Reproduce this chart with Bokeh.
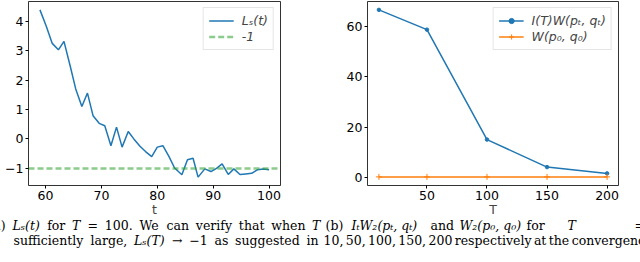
from bokeh.plotting import figure
from bokeh.models import Legend, LegendItem, Label, Range1d
from bokeh.layouts import row, column
from bokeh.embed import file_html
from bokeh.resources import INLINE

# ---------------- data ----------------
t_vals = [59.0, 60.1, 61.2, 62.3, 63.3, 64.4, 65.4, 66.5, 67.5, 68.5,
          69.6, 70.6, 71.7, 72.7, 73.7, 74.8, 75.8, 76.9, 77.9, 79.0,
          80.0, 81.0, 82.1, 83.1, 84.4, 85.4, 86.4, 87.3, 88.5, 89.6,
          90.6, 91.6, 92.7, 93.7, 94.8, 95.8, 96.9, 97.9, 99.0, 100.0]
ls_vals = [4.39, 3.85, 3.25, 3.03, 3.32, 2.49, 1.70, 1.10, 1.56, 0.79,
           0.53, 0.45, -0.23, 0.40, -0.28, 0.25, 0.0, -0.25, -0.43, -0.60,
           -0.28, -0.23, -0.60, -0.99, -1.22, -0.71, -0.66, -1.30, -1.02, -1.11,
           -1.00, -0.85, -1.21, -1.02, -1.21, -1.19, -1.17, -1.05, -1.02, -1.05]
ref_level = [-1]
left_xticks = [60, 70, 80, 90, 100]
left_yticks = [-1, 0, 1, 2, 3, 4]

T_vals = [10, 50, 100, 150, 200]
iw_vals = [66.8, 58.9, 15.0, 4.0, 1.5]
w0_vals = [0.1, 0.1, 0.1, 0.1, 0.1]
right_xticks = [50, 100, 150, 200]
right_yticks = [0, 20, 40, 60]

# caption words: (text, italic)
cap_left_1 = [("(a)", False), ("L\u209b(t)", True), ("for", False), ("T", True),
              ("=", False), ("100.", False), ("We", False), ("can", False),
              ("verify", False), ("that", False), ("when", False), ("T", True)]
cap_left_2 = [("sufficiently", False), ("large,", False), ("L\u209b(T)", True),
              ("\u2192", False), ("\u22121", False), ("as", False),
              ("suggested", False), ("in", False)]
cap_right_1 = [(325, "(b)", False), (351, "I\u209cW\u2082(p\u209c, q\u209c)", True),
               (430, "and", False), (459, "W\u2082(p\u2080, q\u2080)", True),
               (526, "for", False), (567, "T", True), (634, "=", False)]
cap_right_2 = [("10,", False), ("50,", False), ("100,", False), ("150,", False),
               ("200", False), ("respectively", False), ("at", False),
               ("the", False), ("convergence", False)]

BLUE = "#1f77b4"
ORANGE = "#ff7f0e"
GREEN = "#2ca02c"
FONT = "DejaVu Sans"
SERIF = "DejaVu Serif"
CAP_SIZE = 12.5

# approximate DejaVu Serif advance widths (per 1000 em)
WID = {" ": 318, "a": 596, "b": 640, "c": 560, "d": 640, "e": 592, "f": 370,
       "g": 640, "h": 644, "i": 320, "l": 320, "m": 948, "n": 644, "o": 602,
       "p": 640, "q": 640, "r": 478, "s": 513, "t": 402, "u": 644, "v": 566,
       "w": 828, "y": 566, ",": 318, ".": 318, "(": 390, ")": 390, "=": 838,
       "T": 685, "W": 1023, "L": 619, "I": 367, "\u2212": 838, "\u2192": 838}
for d in "0123456789":
    WID[d] = 636


def text_w(s):
    return sum(WID.get(c, 420) for c in s) * CAP_SIZE / 1000.0


def justify(words, x0, x1):
    widths = [text_w(w) for w, _ in words]
    gap = (x1 - x0 - sum(widths)) / (len(words) - 1)
    out, x = [], x0
    for (w, it), wd in zip(words, widths):
        out.append((x, w, it))
        x += wd + gap
    return out


def style(p):
    p.outline_line_color = "black"
    p.outline_line_width = 1
    p.outline_line_alpha = 0.8
    p.xgrid.visible = False
    p.ygrid.visible = False
    for ax in (p.xaxis[0], p.yaxis[0]):
        ax.axis_line_color = None
        ax.major_tick_line_color = "black"
        ax.major_tick_in = 0
        ax.major_tick_out = 3
        ax.minor_tick_line_color = None
        ax.major_label_text_font = FONT
        ax.major_label_text_font_size = "12.5px"
        ax.major_label_text_color = "black"
        ax.major_label_standoff = 2
        ax.axis_label_text_font = FONT
        ax.axis_label_text_font_size = "12.5px"
        ax.axis_label_text_font_style = "normal"
        ax.axis_label_standoff = -1


def legend_style(lg):
    lg.label_text_font = FONT
    lg.label_text_font_size = "12.5px"
    lg.label_text_font_style = "italic"
    lg.glyph_width = 25
    lg.glyph_height = 13
    lg.label_height = 13
    lg.label_standoff = 8
    lg.spacing = 1
    lg.padding = 5
    lg.margin = 6
    lg.border_line_color = "#cccccc"
    lg.border_line_width = 1
    lg.background_fill_alpha = 0.8


# ---------------- left panel ----------------
p1 = figure(width=320, height=219, output_backend="svg", toolbar_location=None,
            x_range=Range1d(56.95, 102.05), y_range=Range1d(-1.585, 4.675),
            min_border_left=28, min_border_right=40, min_border_top=1,
            min_border_bottom=34)
style(p1)
p1.xaxis.ticker = left_xticks
p1.yaxis.ticker = left_yticks
p1.yaxis.major_label_overrides = {-1: "\u22121"}
p1.xaxis.axis_label = "t"

l1 = p1.line(t_vals, ls_vals, line_color=BLUE, line_width=1.5)
hs = p1.hspan(y=ref_level, line_color=GREEN, line_width=2.5, line_alpha=0.55,
              line_dash="6 3")
lg1 = Legend(items=[LegendItem(label="L\u209b(t)", renderers=[l1]),
                    LegendItem(label="-1", renderers=[hs])],
             location="top_right")
legend_style(lg1)
p1.add_layout(lg1)

# ---------------- right panel ----------------
p2 = figure(width=320, height=219, output_backend="svg", toolbar_location=None,
            x_range=Range1d(0.5, 209.5), y_range=Range1d(-3.34, 70.14),
            min_border_left=47, min_border_right=22, min_border_top=1,
            min_border_bottom=34)
style(p2)
p2.xaxis.ticker = right_xticks
p2.yaxis.ticker = right_yticks
p2.xaxis.axis_label = "T"

b_line = p2.line(T_vals, iw_vals, line_color=BLUE, line_width=1.5)
b_pts = p2.scatter(T_vals, iw_vals, marker="circle", size=3.5, fill_color=BLUE,
                   line_color=BLUE)
o_line = p2.line(T_vals, w0_vals, line_color=ORANGE, line_width=1.5)
o_pts = p2.scatter(T_vals, w0_vals, marker="cross", size=6, line_color=ORANGE,
                   line_width=1)
lg2 = Legend(items=[LegendItem(label="I(T)W(p\u209c, q\u209c)", renderers=[b_line, b_pts]),
                    LegendItem(label="W(p\u2080, q\u2080)", renderers=[o_line, o_pts])],
             location="top_right")
legend_style(lg2)
p2.add_layout(lg2)

# ---------------- caption strip ----------------
cap = figure(width=640, height=43, output_backend="svg", toolbar_location=None,
             x_range=Range1d(0, 640), y_range=Range1d(0, 43), min_border=0,
             x_axis_location=None, y_axis_location=None)
cap.outline_line_color = None
cap.grid.visible = False

placed = [(justify(cap_left_1, -12, 320), 37.5), (justify(cap_left_2, 13, 318), 22.5),
          (cap_right_1, 37.5), (justify(cap_right_2, 323, 652), 22.5)]
for segs, ybase in placed:
    for x, txt, ital in segs:
        cap.add_layout(Label(x=x, y=ybase, x_units="screen", y_units="screen",
                             text=txt, text_font=SERIF,
                             text_font_size=f"{CAP_SIZE}px",
                             text_font_style="italic" if ital else "normal",
                             text_baseline="middle", text_color="black"))

layout = column(row(p1, p2), cap)
open("out.html", "w").write(file_html(layout, INLINE))
